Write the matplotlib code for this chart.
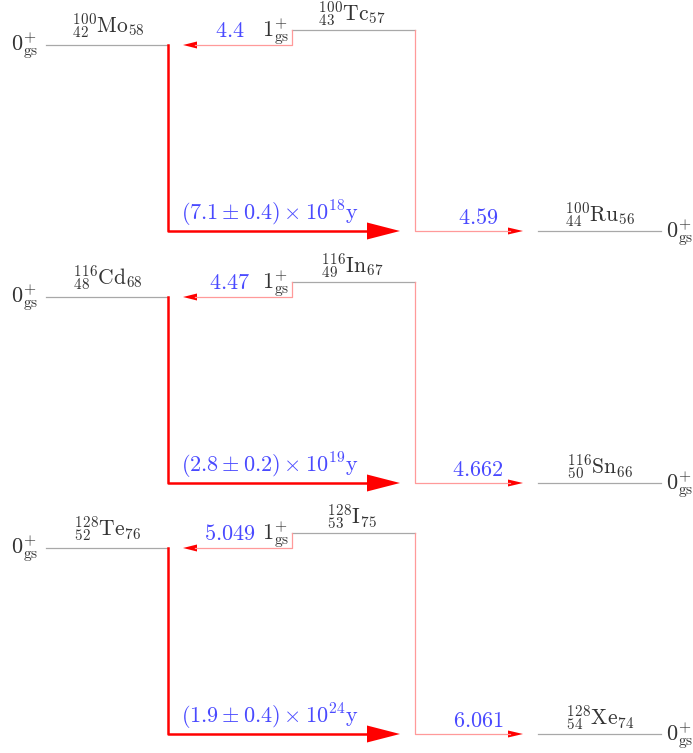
import matplotlib
matplotlib.use('Agg')
import matplotlib.pyplot as plt
from matplotlib.patches import Polygon

plt.rcParams['mathtext.fontset'] = 'cm'
plt.rcParams['font.family'] = ['DejaVu Serif']

# data: three double-beta triplets (initial -> intermediate -> final)
mass = [100, 116, 128]
init_sym = ['Mo', 'Cd', 'Te']
init_z = [42, 48, 52]
init_n = [58, 68, 76]
mid_sym = ['Tc', 'In', 'I']
mid_z = [43, 49, 53]
mid_n = [57, 67, 75]
final_sym = ['Ru', 'Sn', 'Xe']
final_z = [44, 50, 54]
final_n = [56, 66, 74]
q_ec = ['4.4', '4.47', '5.049']
q_beta = ['4.59', '4.662', '6.061']
t_half = [7.1, 2.8, 1.9]
t_err = [0.4, 0.2, 0.4]
t_exp = [18, 19, 24]

grey = '#a8a8a8'
txt = '#333333'
blue = '#4a4aff'
pink = '#ff9a9a'

fig = plt.figure(figsize=(6.93, 7.53), dpi=100)
ax = fig.add_axes([0, 0, 1, 1])
ax.set_xlim(0, 693)
ax.set_ylim(753, 0)
ax.axis('off')


def nuc(a, sym, z, n):
    return r'${}^{%d}_{%d}\mathrm{%s}_{%d}$' % (a, z, sym, n)


offsets = [0, 252, 503]
for i, dy in enumerate(offsets):
    y0 = 45 + dy      # initial ground state
    y1 = 30 + dy      # intermediate 1+ state
    y2 = 231 + dy     # final ground state

    # levels
    ax.plot([46, 168], [y0, y0], color=grey, lw=0.9)
    ax.plot([292, 415], [y1, y1], color=grey, lw=0.9)
    ax.plot([538, 661], [y2, y2], color=grey, lw=0.9)

    # EC branch (intermediate -> initial)
    ax.plot([292, 292, 195], [y1, y0, y0], color=pink, lw=0.9)
    ax.add_patch(Polygon([[183, y0], [197, y0 - 3.5], [197, y0 + 3.5]],
                         closed=True, color='red', lw=0))
    # beta- branch (intermediate -> final)
    ax.plot([415, 415, 510], [y1, y2, y2], color=pink, lw=0.9)
    ax.add_patch(Polygon([[523, y2], [508, y2 - 3.5], [508, y2 + 3.5]],
                         closed=True, color='red', lw=0))
    # double beta
    ax.plot([168, 168, 370], [y0, y2, y2], color='red', lw=1.8)
    ax.add_patch(Polygon([[400, y2], [367, y2 - 8.5], [367, y2 + 8.5]],
                         closed=True, color='red', lw=0))

    # labels
    ax.text(25, y0 + 1, r'$0^{+}_{\mathrm{gs}}$', color=txt, fontsize=16,
            ha='center', va='center')
    ax.text(680, y2 + 2, r'$0^{+}_{\mathrm{gs}}$', color=txt, fontsize=16,
            ha='center', va='center')
    ax.text(276, y1 + 2, r'$1^{+}_{\mathrm{gs}}$', color=txt, fontsize=16,
            ha='center', va='center')
    ax.text(108, y0 - 19, nuc(mass[i], init_sym[i], init_z[i], init_n[i]),
            color=txt, fontsize=15.5, ha='center', va='center')
    ax.text(352, y1 - 16, nuc(mass[i], mid_sym[i], mid_z[i], mid_n[i]),
            color=txt, fontsize=15.5, ha='center', va='center')
    ax.text(600, y2 - 16, nuc(mass[i], final_sym[i], final_z[i], final_n[i]),
            color=txt, fontsize=15.5, ha='center', va='center')

    ax.text(230, y1 + 1, '$%s$' % q_ec[i], color=blue, fontsize=16,
            ha='center', va='center')
    ax.text(478, y2 - 13, '$%s$' % q_beta[i], color=blue, fontsize=16,
            ha='center', va='center')
    ax.text(181, y2 - 17,
            r'$(%.1f \pm %.1f) \times 10^{%d}\mathrm{y}$' % (t_half[i], t_err[i], t_exp[i]),
            color=blue, fontsize=16, ha='left', va='center')

fig.savefig('out.png', dpi=100)
